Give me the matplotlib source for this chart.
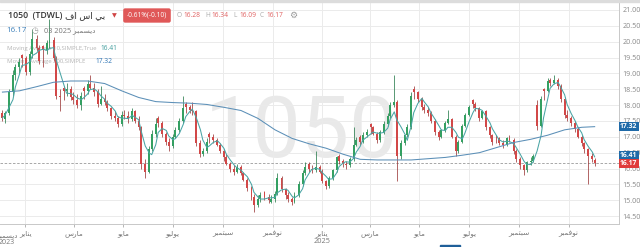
import matplotlib
matplotlib.use("Agg")
import matplotlib.pyplot as plt
import matplotlib.dates as mdates
from matplotlib.patches import Rectangle
import numpy as np
import pandas as pd

plt.rcParams['font.family'] = ['Open Sans', 'DejaVu Sans']

# ── data: one candle per 3 trading days, last one on 2025-12-03 ──
opens = [17.75, 17.55, 17.75, 18.4, 18.95, 19.2, 19.58, 19.5, 19.05, 19.6,
         20.1, 19.8, 19.85, 19.75, 19.95, 20.05, 19.5, 18.3, 18.55, 18.45,
         18.5, 18.25, 18.15, 18.0, 18.55, 18.45, 18.65, 18.55, 18.4, 18.05,
         18.2, 18.1, 17.9, 17.65, 17.6, 17.4, 17.7, 17.65, 17.55, 17.8,
         17.5, 17.3, 16.15, 15.9, 16.6, 17.1, 17.6, 17.45, 17.1, 16.85,
         16.7, 17.0, 17.2, 17.5, 18.05, 17.95, 17.85, 17.8, 16.8, 16.45,
         16.55, 17.1, 17.0, 16.9, 16.75, 16.55, 16.35, 16.15, 16.0, 15.9,
         16.05, 15.85, 15.65, 15.4, 15.1, 14.85, 15.05, 15.25, 15.1, 14.95,
         15.05, 15.2, 15.7, 15.35, 15.15, 15.05, 14.95, 15.15, 15.5, 15.85,
         16.15, 16.0, 15.95, 16.05, 15.9, 15.6, 15.45, 15.7, 15.95, 16.4,
         16.25, 16.15, 16.1, 16.3, 16.75, 17.0, 16.85, 17.05, 17.4, 17.3,
         17.1, 16.9, 17.15, 17.4, 17.65, 18.0, 18.1, 16.4, 16.8, 17.05,
         17.3, 18.5, 18.4, 18.2, 17.95, 17.85, 17.75, 17.5, 17.15, 17.0,
         17.2, 17.45, 17.55, 17.0, 16.55, 16.85, 17.35, 17.7, 18.15, 18.05,
         17.9, 17.6, 17.8, 17.3, 17.05, 17.0, 16.95, 16.8, 16.75, 16.95,
         16.9, 16.55, 16.3, 16.1, 15.95, 16.2, 16.25, 18.0, 17.35, 18.5,
         18.45, 18.8, 18.7, 18.8, 18.6, 18.2, 17.7, 17.6, 17.45, 17.25,
         17.0, 16.8, 16.6, 16.4, 16.28]
highs = [17.85, 17.8, 18.5, 19.1, 19.3, 19.5, 19.6, 19.55, 19.7, 20.4,
         20.2, 19.9, 19.9, 20.05, 20.7, 20.15, 19.55, 18.5, 18.6, 18.7,
         18.6, 18.4, 18.35, 18.4, 18.6, 18.8, 18.95, 18.7, 18.5, 18.6,
         18.35, 18.15, 17.95, 17.8, 17.65, 17.8, 17.85, 17.8, 17.9, 17.85,
         17.65, 17.35, 16.3, 16.7, 17.2, 17.6, 17.65, 17.5, 17.15, 16.95,
         17.1, 17.3, 17.6, 18.3, 18.1, 18.0, 18.1, 17.85, 16.9, 16.65,
         16.95, 17.15, 17.1, 16.95, 16.8, 16.6, 16.45, 16.2, 16.1, 16.15,
         16.1, 15.9, 15.7, 15.45, 15.2, 15.15, 15.25, 15.3, 15.2, 15.15,
         15.3, 15.85, 15.75, 15.4, 15.25, 15.1, 15.25, 15.6, 15.95, 16.2,
         16.2, 16.1, 16.55, 16.1, 16.0, 15.65, 15.75, 16.0, 16.4, 16.45,
         16.3, 16.25, 16.35, 17.3, 17.0, 17.05, 17.15, 17.25, 17.45, 17.35,
         17.15, 17.2, 17.5, 17.75, 18.1, 18.95, 18.15, 16.9, 17.1, 17.4,
         18.4, 18.6, 18.45, 18.25, 18.05, 17.95, 17.8, 17.55, 17.2, 17.25,
         17.5, 17.85, 17.6, 17.05, 16.9, 17.4, 17.75, 18.0, 18.2, 18.1,
         17.95, 17.85, 17.85, 17.35, 17.1, 17.05, 17.0, 16.9, 17.0, 17.05,
         16.95, 16.6, 16.35, 16.15, 16.25, 16.35, 16.45, 18.15, 18.3, 18.55,
         18.85, 18.85, 18.95, 18.85, 18.65, 18.25, 17.85, 17.65, 17.5, 17.3,
         17.05, 16.85, 16.65, 16.5, 16.34]
lows = [17.5, 17.42, 17.7, 18.3, 18.8, 19.0, 19.2, 18.95, 18.95, 19.5,
        19.7, 19.3, 19.2, 19.6, 19.8, 19.4, 18.2, 17.8, 18.15, 18.3,
        18.15, 18.05, 17.9, 17.85, 18.2, 18.35, 18.5, 18.3, 17.95, 18.0,
        18.0, 17.8, 17.55, 17.5, 17.3, 17.35, 17.55, 17.45, 17.5, 17.45,
        17.2, 16.0, 15.7, 15.85, 16.55, 17.0, 17.3, 17.0, 16.75, 16.55,
        16.65, 16.95, 17.15, 17.45, 17.75, 17.75, 17.7, 16.7, 16.35, 16.4,
        16.5, 16.8, 16.8, 16.7, 16.5, 16.25, 16.1, 15.9, 15.8, 15.85,
        15.8, 15.6, 15.3, 15.0, 14.62, 14.8, 14.95, 15.0, 14.9, 14.9,
        14.95, 15.15, 15.25, 15.05, 14.95, 14.85, 14.9, 15.1, 15.45, 15.8,
        15.9, 15.85, 15.9, 15.85, 15.55, 15.35, 15.4, 15.65, 15.9, 16.15,
        16.05, 16.0, 16.05, 16.25, 16.7, 16.75, 16.8, 17.0, 17.1, 17.05,
        16.8, 16.85, 17.1, 17.35, 17.6, 17.95, 15.6, 16.3, 16.75, 17.0,
        17.25, 18.2, 18.1, 17.85, 17.75, 17.65, 17.45, 17.05, 16.9, 16.95,
        17.15, 17.4, 16.95, 16.4, 16.5, 16.8, 17.3, 17.65, 17.9, 17.8,
        17.5, 17.55, 17.2, 16.95, 16.75, 16.8, 16.75, 16.65, 16.7, 16.85,
        16.45, 16.2, 16.0, 15.8, 15.9, 16.1, 16.2, 17.2, 17.3, 18.15,
        18.4, 18.6, 18.65, 18.5, 18.1, 17.6, 17.5, 17.35, 17.15, 16.95,
        16.7, 16.5, 15.5, 16.2, 16.09]
closes = [17.6, 17.75, 18.4, 18.95, 19.2, 19.35, 19.5, 19.05, 19.6, 20.1,
          19.8, 19.4, 19.75, 19.95, 20.05, 19.5, 18.3, 18.25, 18.45, 18.5,
          18.25, 18.15, 18.0, 18.3, 18.45, 18.65, 18.55, 18.4, 18.05, 18.2,
          18.1, 17.9, 17.65, 17.6, 17.4, 17.7, 17.65, 17.55, 17.8, 17.5,
          17.3, 16.15, 15.9, 16.6, 17.1, 17.4, 17.45, 17.1, 16.85, 16.7,
          17.0, 17.2, 17.5, 17.9, 17.95, 17.85, 17.8, 16.8, 16.45, 16.55,
          16.85, 17.0, 16.9, 16.75, 16.55, 16.35, 16.15, 16.0, 15.9, 16.05,
          15.85, 15.65, 15.4, 15.1, 14.85, 15.05, 15.15, 15.1, 15.0, 15.05,
          15.2, 15.7, 15.35, 15.15, 15.05, 14.95, 15.15, 15.5, 15.85, 16.05,
          16.0, 15.95, 16.05, 15.9, 15.6, 15.45, 15.7, 15.95, 16.35, 16.25,
          16.15, 16.1, 16.3, 16.75, 16.9, 16.85, 17.05, 17.15, 17.3, 17.1,
          16.9, 17.15, 17.4, 17.65, 18.0, 18.1, 16.4, 16.8, 17.05, 17.3,
          18.3, 18.4, 18.2, 17.95, 17.85, 17.75, 17.5, 17.15, 17.0, 17.2,
          17.45, 17.55, 17.0, 16.55, 16.85, 17.35, 17.7, 17.95, 18.05, 17.9,
          17.6, 17.8, 17.3, 17.05, 16.85, 16.95, 16.8, 16.75, 16.95, 16.9,
          16.55, 16.3, 16.1, 15.95, 16.2, 16.25, 16.4, 17.35, 18.2, 18.45,
          18.75, 18.7, 18.8, 18.6, 18.2, 17.7, 17.6, 17.45, 17.25, 17.0,
          16.8, 16.6, 16.4, 16.3, 16.17]
# long moving average, every 5th candle plus the last one
ma200 = [18.41, 18.45, 18.58, 18.72, 18.76, 18.76, 18.68, 18.45, 18.24, 18.11,
         18.08, 18.06, 18.02, 17.93, 17.83, 17.58, 17.22, 16.95, 16.78, 16.64,
         16.45, 16.29, 16.27, 16.27, 16.27, 16.31, 16.35, 16.42, 16.50, 16.66,
         16.82, 16.92, 17.05, 17.22, 17.30, 17.32]

month_ticks = ["2024-01-01", "2024-03-01", "2024-05-01", "2024-07-01", "2024-09-01",
               "2024-11-01", "2025-01-01", "2025-03-01", "2025-05-01", "2025-07-01",
               "2025-09-01", "2025-11-01"]
month_names = ["يناير", "مارس", "مايو", "يوليو", "سبتمبر", "نوفمبر",
               "يناير\n2025", "مارس", "مايو", "يوليو", "سبتمبر", "نوفمبر"]

last_o, last_h, last_l, last_c = 16.28, 16.34, 16.09, 16.17
ma_short_val, ma_long_val = 16.41, 17.32

# ── tiny arabic shaper (matplotlib has no shaping / bidi) ──
FORMS = {  # isolated, final, initial, medial
    'ا': ('\uFE8D', '\uFE8E', None, None),
    'ب': ('\uFE8F', '\uFE90', '\uFE91', '\uFE92'),
    'ت': ('\uFE95', '\uFE96', '\uFE97', '\uFE98'),
    'د': ('\uFEA9', '\uFEAA', None, None),
    'ر': ('\uFEAD', '\uFEAE', None, None),
    'س': ('\uFEB1', '\uFEB2', '\uFEB3', '\uFEB4'),
    'ف': ('\uFED1', '\uFED2', '\uFED3', '\uFED4'),
    'ل': ('\uFEDD', '\uFEDE', '\uFEDF', '\uFEE0'),
    'م': ('\uFEE1', '\uFEE2', '\uFEE3', '\uFEE4'),
    'ن': ('\uFEE5', '\uFEE6', '\uFEE7', '\uFEE8'),
    'و': ('\uFEED', '\uFEEE', None, None),
    'ي': ('\uFEF1', '\uFEF2', '\uFEF3', '\uFEF4'),
}

def shape_word(s):
    out = []
    for i, ch in enumerate(s):
        if ch not in FORMS:
            out.append(ch)
            continue
        f = FORMS[ch]
        prev = s[i - 1] if i > 0 else ''
        nxt = s[i + 1] if i < len(s) - 1 else ''
        jp = prev in FORMS and FORMS[prev][2] is not None
        jn = f[2] is not None and nxt in FORMS
        out.append(f[3] if jp and jn else f[1] if jp else f[2] if jn else f[0])
    return ''.join(reversed(out))

def ar(s):
    # each line separately; digits lines left untouched
    return "\n".join(shape_word(l) if any(c in FORMS for c in l) else l
                     for l in s.split("\n"))

# ── build ──
n = len(closes)
bdays = pd.bdate_range(end="2025-12-03", periods=3 * (n - 1) + 1, freq="C",
                       weekmask="Sun Mon Tue Wed Thu")
dates = bdays[::3]
d = mdates.date2num(dates)
o = np.array(opens); h = np.array(highs); l = np.array(lows); c = np.array(closes)
ma_short = pd.Series(c).rolling(4, min_periods=1).mean().values
ma_idx = list(range(0, n, 5))
if ma_idx[-1] != n - 1:
    ma_idx.append(n - 1)

W, H = 640, 247
fig = plt.figure(figsize=(W / 100, H / 100), dpi=100)
fig.patch.set_facecolor("white")
ax = fig.add_axes([0, 23 / H, 619 / W, 221 / H])
ax.set_facecolor("white")

ax.set_ylim(14.25, 21.22)
ax.set_xlim(mdates.date2num(pd.Timestamp("2023-12-01")),
            mdates.date2num(pd.Timestamp("2026-01-02")))

# watermark
ax.text(0.487, 0.41, "1050", transform=ax.transAxes, ha="center", va="center",
        fontsize=62, color="#e9e9e9", family="Roboto", zorder=0)

# grid
ax.set_yticks(np.arange(14.5, 21.01, 0.5))
ax.yaxis.set_major_formatter(matplotlib.ticker.FormatStrFormatter("%.2f"))
ax.set_xticks(mdates.date2num(pd.to_datetime(month_ticks)))
ax.set_xticklabels([ar(m) for m in month_names])
ax.grid(True, color="#ebebeb", lw=0.7, zorder=0)
ax.set_axisbelow(True)

ax.yaxis.tick_right()
ax.tick_params(axis="y", length=0, pad=2.5, labelsize=5.1, labelcolor="#888")
ax.tick_params(axis="x", length=2.5, width=0.6, color="#aaa", pad=2,
               labelsize=5.3, labelcolor="#777")
for s in ("top", "left"):
    ax.spines[s].set_visible(False)
for s in ("right", "bottom"):
    ax.spines[s].set_color("#c8c8c8")
    ax.spines[s].set_linewidth(0.7)

# december 2023 label sits half outside the left edge, like the source
ax.text(7 / 619, -0.035, ar("ديسمبر\n2023"), transform=ax.transAxes, ha="center",
        va="top", fontsize=5.0, color="#777", linespacing=1.05,
        multialignment="center")

# legend texts (drawn under the candles)
ax.text(0.011, 0.796, "Moving Average 10,SIMPLE,True", transform=ax.transAxes,
        fontsize=4.3, color="#b4b4b4", va="center", zorder=1)
ax.text(0.163, 0.796, f"{ma_short_val:.2f}", transform=ax.transAxes,
        fontsize=4.8, color="#3f9c9c", va="center", zorder=1)
ax.text(0.011, 0.737, "Moving Average 200,SIMPLE", transform=ax.transAxes,
        fontsize=4.3, color="#b4b4b4", va="center", zorder=1)
ax.text(0.155, 0.737, f"{ma_long_val:.2f}", transform=ax.transAxes,
        fontsize=4.8, color="#2f75b5", va="center", zorder=1)

# candles
up = c >= o
body_col = np.where(up, "#34a062", "#d24848")
wick_col = np.where(up, "#2b7d4e", "#9c3a3a")
ax.vlines(d, l, h, colors=wick_col, lw=0.55, zorder=3)
ax.bar(d, np.maximum(np.abs(c - o), 0.03), bottom=np.minimum(o, c), width=2.4,
       color=body_col, lw=0, zorder=4)

# moving averages
ax.plot(d, ma_short, color="#4aa5a5", lw=0.75, zorder=5)
ax.plot(d[ma_idx], ma200, color="#5b8fb7", lw=0.75, zorder=5)

# last price line
ax.axhline(last_c, color="#9a9a9a", lw=0.6, ls=(0, (3, 2)), zorder=2)

# price badges on the right axis
for val, col in ((ma_long_val, "#1f6aa8"), (ma_short_val, "#1f6aa8"), (last_c, "#e03c3c")):
    ax.annotate(f"{val:.2f}", xy=(1.0, val), xycoords=("axes fraction", "data"),
                xytext=(0.8, 0), textcoords="offset points", ha="left", va="center",
                fontsize=4.9, color="white", fontweight="bold", annotation_clip=False,
                bbox=dict(boxstyle="square,pad=0.16", fc=col, ec="none"), zorder=10)

# ── header ──
def px(x, y):
    return x / W, 1 - y / H

fig.patches.append(Rectangle((0, 1 - 2.5 / H), 1, 2.5 / H, transform=fig.transFigure,
                             color="#dcdcdc", zorder=0))
fig.patches.append(Rectangle((440 / W, 0), 20 / W, 2 / H, transform=fig.transFigure,
                             color="#1f5f99", zorder=0))

fig.text(*px(8, 15.5), "1050  (TDWL)", fontsize=6.3, color="#333", va="center",
         fontweight="semibold")
fig.text(*px(65, 15.5), ar("بي اس اف"), fontsize=6.5, color="#333", va="center")
fig.text(*px(112, 15.5), "▼", fontsize=4.5, color="#d04545", va="center",
         family="DejaVu Sans")
fig.text(*px(147, 15.5), "-0.61%(-0.10)", fontsize=4.8, color="white", ha="center",
         va="center", bbox=dict(boxstyle="round,pad=0.55,rounding_size=0.3",
                                fc="#e05858", ec="none"))
hx = [177, 205, 233, 260]
for x0, lab, v in zip(hx, "OHLC", (last_o, last_h, last_l, last_c)):
    fig.text(*px(x0, 15.5), lab, fontsize=4.8, color="#aaa", va="center")
    fig.text(*px(x0 + 6, 15.5), f"{v:.2f}", fontsize=4.8, color="#e06060", va="center")
fig.text(*px(293, 15), "⚙", fontsize=6.5, color="#999", va="center", ha="center",
         family="DejaVu Sans")

fig.text(*px(6, 30.5), f"{last_c:.2f}", fontsize=5.8, color="#3a7fba", va="center")
fig.text(*px(35, 30.5), "◷", fontsize=5.5, color="#999", va="center", ha="center",
         family="DejaVu Sans")
fig.text(*px(44, 30.5), "03 2025 " + ar("ديسمبر"), fontsize=5.3, color="#777",
         va="center")

fig.savefig("out.png", dpi=100, facecolor="white")
